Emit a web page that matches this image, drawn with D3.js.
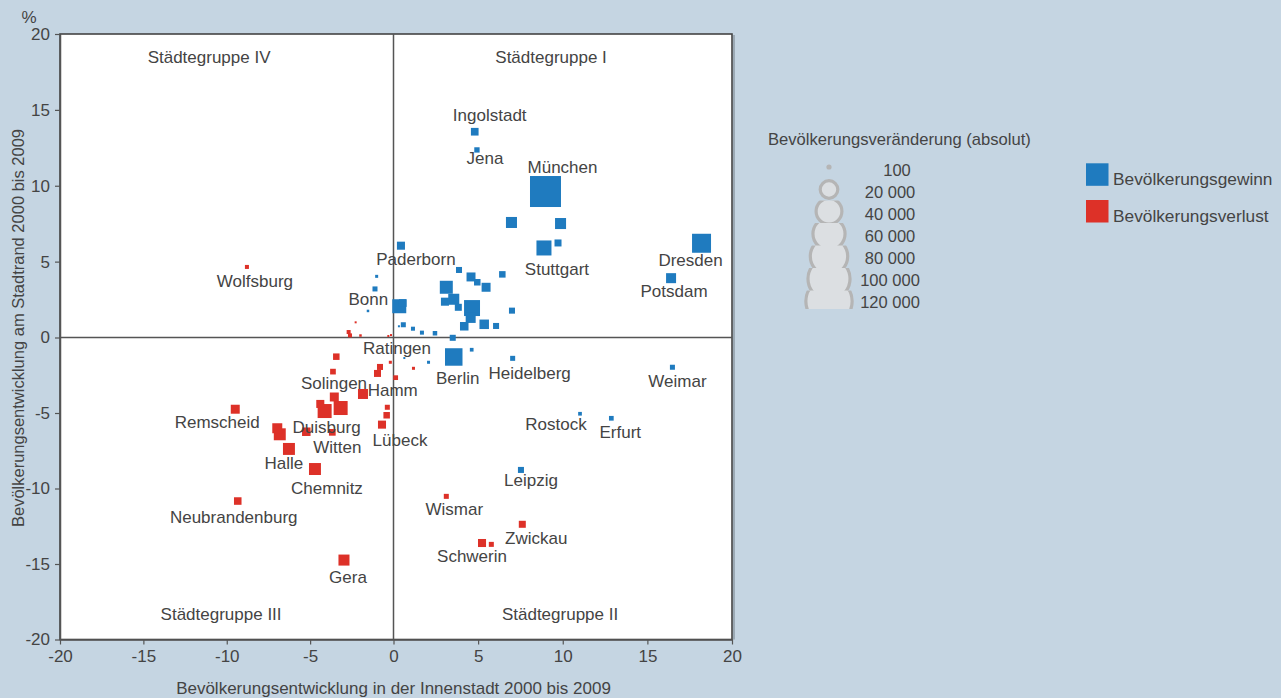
<!DOCTYPE html>
<html>
<head>
<meta charset="utf-8">
<script src="https://cdn.jsdelivr.net/npm/d3@7"></script>
<style>
  body { margin: 0; background: #c5d5e2; }
  text { font-family: "Liberation Sans", Arial, sans-serif; fill: #444; }
</style>
</head>
<body>
<svg id="chart"></svg>
<script>
// Data: [name, Innenstadt %, Stadtrand %, absolute change]
const gains = [
  ["München", 8.98, 9.62, 49000],
  ["Dresden", 18.20, 6.21, 18400],
  ["Berlin", 3.56, -1.29, 15600],
  ["", 4.64, 1.94, 13000],
  ["Stuttgart", 8.89, 5.90, 11500],
  ["Bonn", 0.34, 2.06, 10000],
  ["", 3.12, 3.31, 8600],
  ["", 6.97, 7.58, 6200],
  ["", 9.87, 7.51, 6200],
  ["", 3.56, 2.52, 6200],
  ["Potsdam", 16.40, 3.91, 5100],
  ["", 4.56, 1.29, 5100],
  ["", 5.36, 0.87, 4600],
  ["", 4.58, 3.99, 4100],
  ["", 5.47, 3.31, 4100],
  ["", 4.18, 0.74, 3700],
  ["Paderborn", 0.44, 6.05, 3300],
  ["", 3.04, 2.36, 3300],
  ["Ingolstadt", 4.80, 13.56, 3000],
  ["", 0.55, 2.27, 3000],
  ["", 9.72, 6.23, 2500],
  ["", 3.83, 1.99, 2500],
  ["", 4.95, 3.64, 2150],
  ["", 6.43, 4.16, 2150],
  ["", 3.87, 4.45, 1850],
  ["", 6.06, 0.76, 1850],
  ["", 7.00, 1.77, 1850],
  ["", 3.50, -0.02, 1850],
  ["Leipzig", 7.53, -8.77, 1850],
  ["Jena", 4.93, 12.36, 1450],
  ["", -1.11, 3.20, 1280],
  ["", 0.58, 0.84, 1280],
  ["Heidelberg", 7.04, -1.38, 1280],
  ["Weimar", 16.48, -1.97, 1280],
  ["Erfurt", 12.87, -5.35, 1130],
  ["", 2.45, 0.28, 1030],
  ["", 1.15, 0.58, 820],
  ["", 1.68, 0.32, 820],
  ["", 4.62, -0.81, 700],
  ["Rostock", 11.02, -5.05, 700],
  ["", -1.01, 4.03, 460],
  ["", 2.07, -1.64, 460],
  ["", -1.53, 1.75, 320],
  ["", 0.32, 0.74, 200],
  ["", 0.64, -1.36, 200]
];

const losses = [
  ["Duisburg", -4.13, -4.87, 10000],
  ["", -3.17, -4.67, 10000],
  ["Halle", -6.27, -7.38, 7300],
  ["Chemnitz", -4.71, -8.71, 7300],
  ["", -6.82, -6.41, 7300],
  ["Gera", -2.97, -14.74, 6200],
  ["", -6.97, -6.01, 5100],
  ["", -1.83, -3.74, 5100],
  ["Remscheid", -9.49, -4.75, 4100],
  ["", -3.55, -3.94, 4100],
  ["", -5.23, -6.24, 3700],
  ["", -4.39, -4.40, 3300],
  ["Lübeck", -0.69, -5.77, 3300],
  ["Schwerin", 5.23, -13.61, 3300],
  ["Neubrandenburg", -9.34, -10.83, 2900],
  ["", -0.96, -2.38, 2500],
  ["Zwickau", 7.61, -12.37, 2500],
  ["Witten", -3.67, -6.28, 2300],
  ["", -3.43, -1.27, 2150],
  ["", -0.41, -5.15, 2150],
  ["", -0.81, -1.95, 1850],
  ["Solingen", -3.63, -2.26, 1650],
  ["", -0.37, -4.62, 1280],
  ["Wismar", 3.12, -10.52, 1280],
  ["", 5.78, -13.70, 1280],
  ["Hamm", 0.13, -2.66, 1130],
  ["", -2.69, 0.36, 820],
  ["", -2.61, 0.14, 820],
  ["Wolfsburg", -8.79, 4.65, 820],
  ["", -0.19, -1.64, 460],
  ["", 1.18, -2.04, 460],
  ["", -1.98, 0.13, 320],
  ["", -2.27, 1.00, 200],
  ["", -0.31, 0.10, 200],
  ["Ratingen", -0.15, 0.16, 200]
];

const axisTicks = [-20, -15, -10, -5, 0, 5, 10, 15, 20];
const legendSizes = [100, 20000, 40000, 60000, 80000, 100000, 120000];
const legendTypes = ["Bevölkerungsgewinn", "Bevölkerungsverlust"];
const quadrants = [
  ["Städtegruppe I", 9.31, 18.48],
  ["Städtegruppe II", 9.84, -18.31],
  ["Städtegruppe III", -10.34, -18.31],
  ["Städtegruppe IV", -11.06, 18.48]
];

// label offsets in px from the square centre
const labelOffsets = {
  "Ingolstadt": [15, -17], "Jena": [8, 8], "München": [17, -25],
  "Paderborn": [15, 13], "Stuttgart": [13, 21], "Dresden": [-11, 17],
  "Potsdam": [3, 13], "Wolfsburg": [8, 14], "Bonn": [-31, -7],
  "Ratingen": [6, 13], "Berlin": [4, 21], "Heidelberg": [17, 15],
  "Weimar": [5, 14], "Solingen": [1, 11], "Hamm": [-3, 12],
  "Remscheid": [-18, 13], "Duisburg": [2, 16], "Witten": [5, 15],
  "Lübeck": [18, 15], "Rostock": [-24, 10], "Erfurt": [9, 14],
  "Halle": [-5, 14], "Chemnitz": [12, 19], "Leipzig": [10, 10],
  "Neubrandenburg": [-4, 16], "Wismar": [8, 13], "Zwickau": [14, 14],
  "Schwerin": [-10, 13], "Gera": [4, 17]
};

const width = 1281, height = 698;
const marginLeft = 60, marginTop = 34, plotRight = 732, plotBottom = 639.5;
const blue = "#1f7bbf", red = "#dd3128";
const textShift = 0.5;

const x = d3.scaleLinear([-20, 0, 20], [marginLeft, 393.5, plotRight]);
const y = d3.scaleLinear([-20, 0, 20], [plotBottom, 337.5, marginTop]);
const size = d3.scaleSqrt([0, 120000], [0, 48.5]);

const points = gains.map(d => ({name: d[0], x: d[1], y: d[2], v: d[3], c: blue}))
  .concat(losses.map(d => ({name: d[0], x: d[1], y: d[2], v: d[3], c: red})))
  .sort((a, b) => b.v - a.v);

const svg = d3.select("#chart")
    .attr("width", width)
    .attr("height", height)
    .attr("viewBox", [0, 0, width, height]);

// plot area with frame (shadow on the right)
svg.append("line")
    .attr("x1", x(20) + 2).attr("x2", x(20) + 2).attr("y1", y(20) + 1).attr("y2", y(-20))
    .attr("stroke", "#8e9ba6").attr("stroke-width", 1.5);
svg.append("rect")
    .attr("x", x(-20)).attr("y", y(20))
    .attr("width", x(20) - x(-20)).attr("height", y(-20) - y(20))
    .attr("fill", "#fff")
    .attr("stroke", "#444").attr("stroke-width", 1.6);

// zero lines
svg.append("line")
    .attr("x1", x(0)).attr("x2", x(0)).attr("y1", y(20)).attr("y2", y(-20))
    .attr("stroke", "#555").attr("stroke-width", 1.5);
svg.append("line")
    .attr("x1", x(-20)).attr("x2", x(20)).attr("y1", y(0)).attr("y2", y(0))
    .attr("stroke", "#555").attr("stroke-width", 1.5);

const styleAxis = g => {
  g.select(".domain").attr("stroke", "#555").attr("stroke-width", 1.5);
  g.selectAll(".tick line").attr("stroke", "#555").attr("stroke-width", 1.2);
  g.selectAll(".tick text").attr("fill", "#444").attr("font-size", 17)
    .attr("font-family", "Liberation Sans, Arial, sans-serif");
};

svg.append("g")
    .attr("transform", `translate(${marginLeft},0)`)
    .call(d3.axisLeft(y).tickValues(axisTicks).tickFormat(d => String(d)).tickSize(5).tickPadding(5).tickSizeOuter(0))
    .call(styleAxis);

svg.append("g")
    .attr("transform", `translate(0,${plotBottom})`)
    .call(d3.axisBottom(x).tickValues(axisTicks).tickFormat(d => String(d)).tickSize(5).tickPadding(5).tickSizeOuter(0))
    .call(styleAxis);

svg.append("text").attr("x", 29).attr("y", 17 + textShift).attr("text-anchor", "middle")
    .attr("dominant-baseline", "central").attr("font-size", 17).text("%");

svg.append("text")
    .attr("x", x(0)).attr("y", 688 + textShift)
    .attr("text-anchor", "middle").attr("dominant-baseline", "central")
    .attr("font-size", 17)
    .text("Bevölkerungsentwicklung in der Innenstadt 2000 bis 2009");

svg.append("text")
    .attr("transform", `translate(${17 + textShift},328) rotate(-90)`)
    .attr("text-anchor", "middle").attr("dominant-baseline", "central")
    .attr("font-size", 16.5)
    .text("Bevölkerungsentwicklung am Stadtrand 2000 bis 2009");

svg.append("g")
  .selectAll("text")
  .data(quadrants)
  .join("text")
    .attr("x", d => x(d[1]))
    .attr("y", d => y(d[2]) + textShift)
    .attr("text-anchor", "middle").attr("dominant-baseline", "central")
    .attr("font-size", 17)
    .text(d => d[0]);

// squares, largest first so small ones stay visible
svg.append("g")
  .selectAll("rect")
  .data(points)
  .join("rect")
    .attr("x", d => x(d.x) - Math.max(size(d.v), 2) / 2)
    .attr("y", d => y(d.y) - Math.max(size(d.v), 2) / 2)
    .attr("width", d => Math.max(size(d.v), 2))
    .attr("height", d => Math.max(size(d.v), 2))
    .attr("fill", d => d.c);

// city labels
svg.append("g")
  .selectAll("text")
  .data(points.filter(d => d.name))
  .join("text")
    .attr("x", d => x(d.x) + labelOffsets[d.name][0])
    .attr("y", d => y(d.y) + labelOffsets[d.name][1] + textShift)
    .attr("text-anchor", "middle").attr("dominant-baseline", "central")
    .attr("font-size", 17)
    .text(d => d.name);

// size legend
svg.append("text").attr("x", 768).attr("y", 138.5 + textShift)
    .attr("dominant-baseline", "central").attr("font-size", 16.6)
    .text("Bevölkerungsveränderung (absolut)");

const circleY = i => i === 0 ? 167 : i === 1 ? 189.5 : 211.3 + (i - 2) * 22.5;
const bandTop = i => i < 2 ? 150 : 200 + (i - 2) * 22.5;
const bandBottom = i => i < 2 ? 200 : i === 6 ? 308.5 : 200 + (i - 1) * 22.5 + 0.6;

const legendItems = legendSizes.map((v, i) => ({v, i}));
svg.append("defs")
  .selectAll("clipPath")
  .data(legendItems)
  .join("clipPath")
    .attr("id", d => "band" + d.i)
  .append("rect")
    .attr("x", 790).attr("width", 80)
    .attr("y", d => bandTop(d.i) + (d.i >= 2 ? 0.6 : 0))
    .attr("height", d => bandBottom(d.i) - bandTop(d.i));

svg.append("g")
  .selectAll("circle")
  .data(legendItems)
  .join("circle")
    .attr("clip-path", d => `url(#band${d.i})`)
    .attr("cx", 829)
    .attr("cy", d => circleY(d.i))
    .attr("r", d => d.i === 0 ? 2.6 : size(d.v) / 2 - 1.1)
    .attr("fill", d => d.i === 0 ? "#b5b5b5" : "#dcdfe2")
    .attr("stroke", "#b5b5b5")
    .attr("stroke-width", d => d.i === 0 ? 0 : 3.2);

svg.append("g")
  .selectAll("text")
  .data(legendSizes)
  .join("text")
    .attr("x", (d, i) => i === 0 ? 897 : 890)
    .attr("y", (d, i) => 169.5 + i * 22 + textShift)
    .attr("text-anchor", "middle").attr("dominant-baseline", "central")
    .attr("font-size", 16.5)
    .text(d => d3.format(",")(d).replace(/,/g, " "));

// colour legend
const typeLegend = svg.append("g")
  .selectAll("g")
  .data(legendTypes)
  .join("g")
    .attr("transform", (d, i) => `translate(1086,${163.3 + i * 36.7})`);
typeLegend.append("rect").attr("width", 22.5).attr("height", 22.5)
    .attr("fill", (d, i) => i === 0 ? blue : red);
typeLegend.append("text").attr("x", 27).attr("y", 15 + textShift)
    .attr("dominant-baseline", "central").attr("font-size", 17.3)
    .text(d => d);
</script>
</body>
</html>
